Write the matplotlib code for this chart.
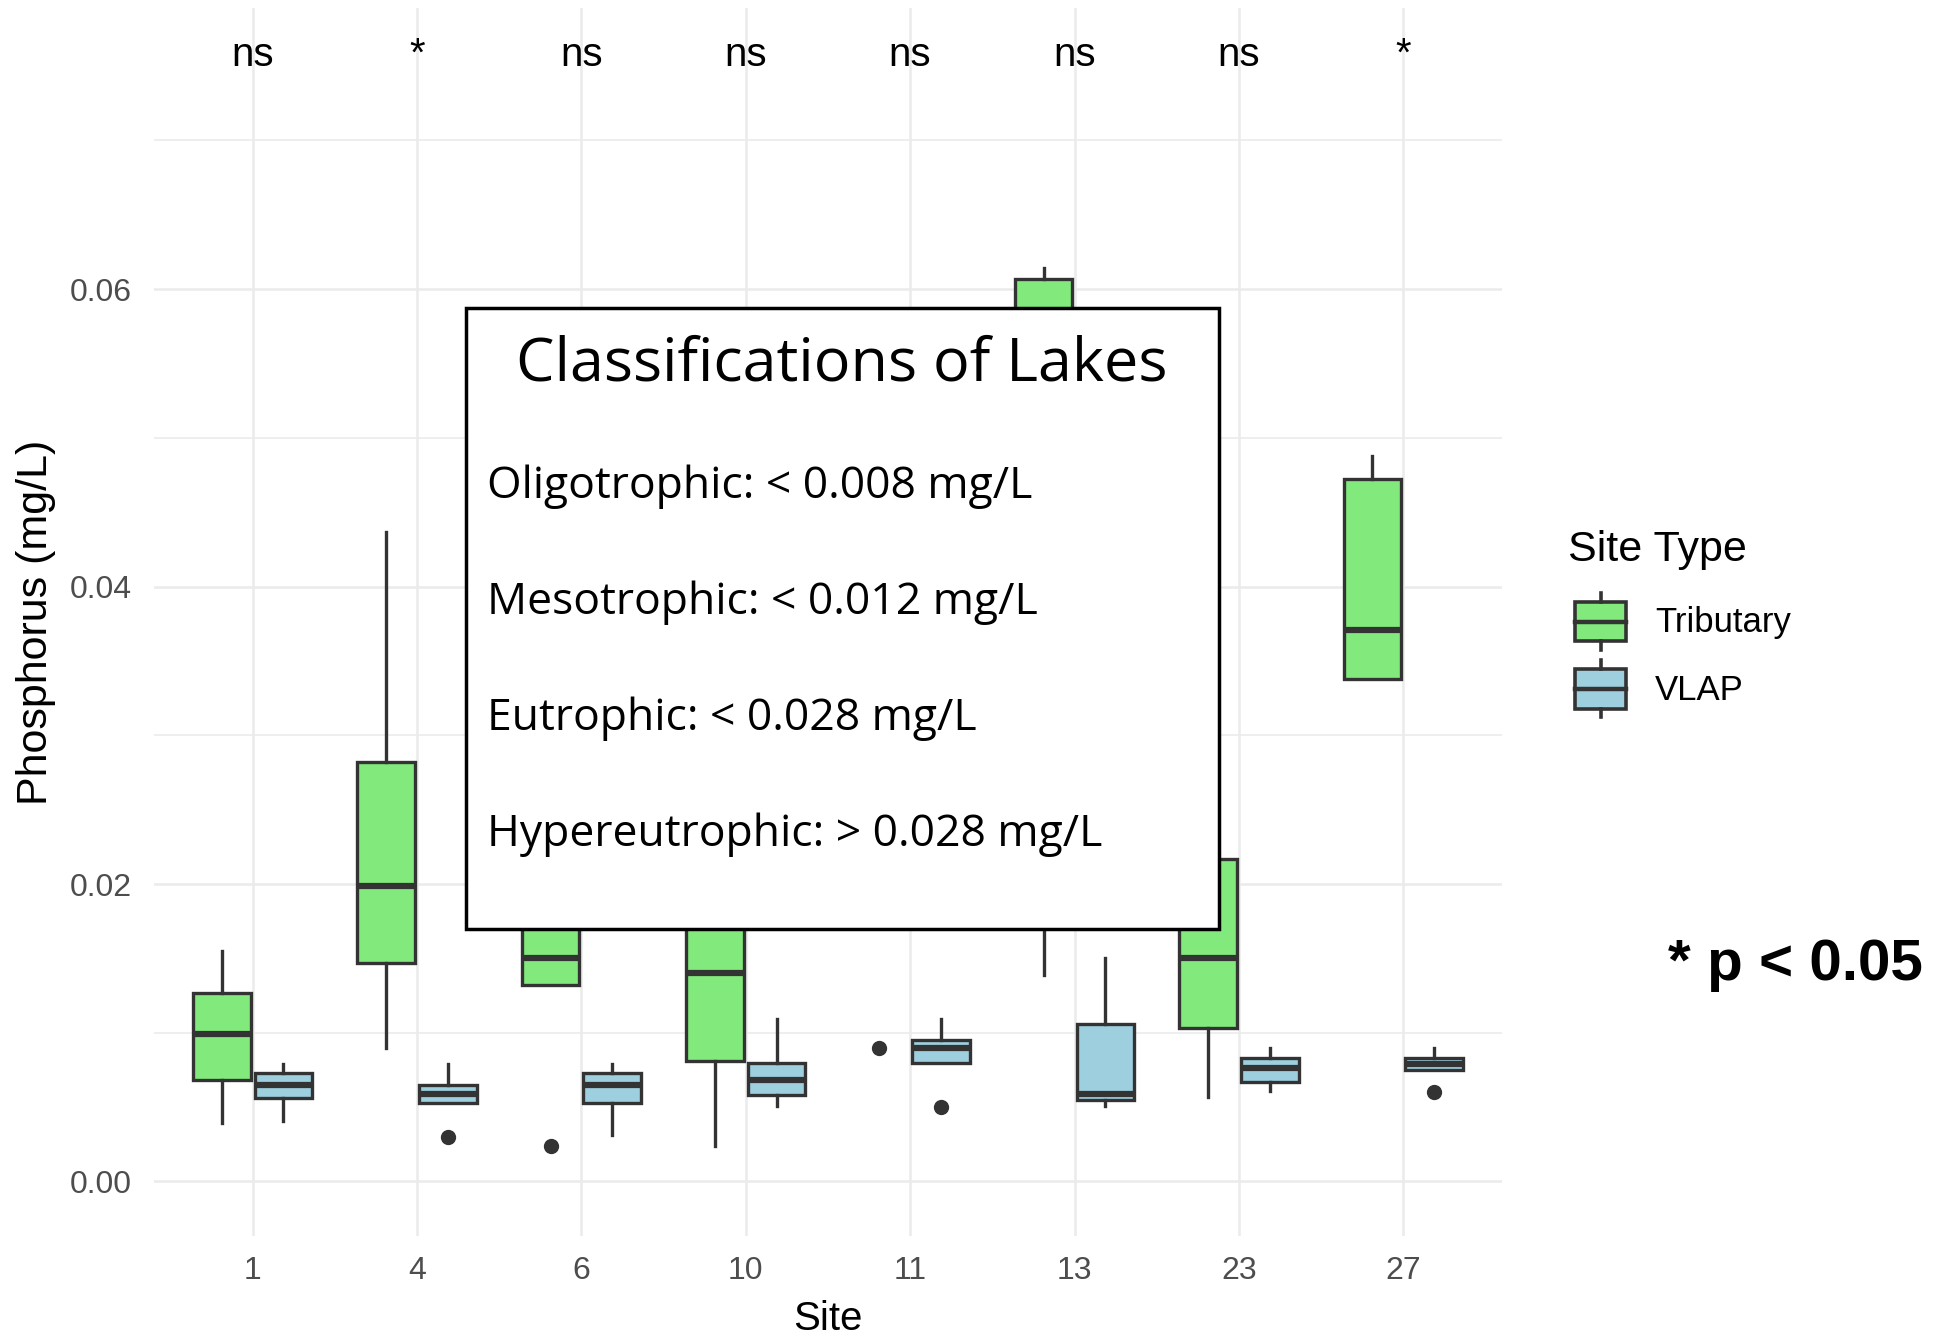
import numpy as np
import matplotlib
matplotlib.use('Agg')
import matplotlib.pyplot as plt
from matplotlib.patches import Patch, Rectangle
from matplotlib.lines import Line2D
from matplotlib.legend_handler import HandlerBase

plt.rcParams['font.family'] = ['Liberation Sans', 'DejaVu Sans']

sites = ['1', '4', '6', '10', '11', '13', '23', '27']
signif = ['ns', '*', 'ns', 'ns', 'ns', 'ns', 'ns', '*']

# Tributary summary stats per site (site 11 has a single sample only)
trib_q1 = [0.0068, 0.0147, 0.0132, 0.0081, None, 0.0235, 0.0103, 0.0338]
trib_med = [0.0099, 0.0199, 0.0150, 0.0140, None, 0.0400, 0.0150, 0.0371]
trib_q3 = [0.0127, 0.0282, 0.0215, 0.0225, None, 0.0607, 0.0217, 0.0472]
trib_lo = [0.0039, 0.0090, 0.0132, 0.0024, None, 0.0139, 0.0057, 0.0338]
trib_hi = [0.0155, 0.0437, 0.0290, 0.0330, None, 0.0614, 0.0280, 0.0488]
trib_out = [[], [], [0.0024], [], [0.0090], [], [], []]

# VLAP summary stats per site
vlap_q1 = [0.0056, 0.0053, 0.0053, 0.0058, 0.0080, 0.0055, 0.0067, 0.0075]
vlap_med = [0.0065, 0.0059, 0.0065, 0.0068, 0.0090, 0.0059, 0.0076, 0.0079]
vlap_q3 = [0.0073, 0.0065, 0.0073, 0.0080, 0.0095, 0.0106, 0.0083, 0.0083]
vlap_lo = [0.0041, 0.0053, 0.0031, 0.0051, 0.0080, 0.0051, 0.0061, 0.0075]
vlap_hi = [0.0079, 0.0079, 0.0079, 0.0109, 0.0109, 0.0150, 0.0090, 0.0090]
vlap_out = [[], [0.0030], [], [], [0.0050], [], [], [0.0060]]

classes = ['Oligotrophic: < 0.008 mg/L',
           'Mesotrophic: < 0.012 mg/L',
           'Eutrophic: < 0.028 mg/L',
           'Hypereutrophic: > 0.028 mg/L']

green = '#82EA7C'
blue = '#9ECFDF'
edge = '#333333'


def make_stats(q1, med, q3, lo, hi, out):
    stats = []
    for a, m, b, l, h, f in zip(q1, med, q3, lo, hi, out):
        if m is None:
            stats.append(None)
        else:
            stats.append(dict(q1=a, med=m, q3=b, whislo=l, whishi=h, fliers=f))
    return stats


class BoxKeyHandler(HandlerBase):
    def create_artists(self, legend, orig_handle, xdescent, ydescent,
                       width, height, fontsize, trans):
        x0, y0 = -xdescent, -ydescent
        stub = height * 0.15
        rect = Rectangle((x0, y0 + stub), width, height - 2 * stub,
                         facecolor=orig_handle.get_facecolor(), edgecolor=edge,
                         lw=2.6, transform=trans)
        mid = y0 + height / 2
        xc = x0 + width / 2
        med = Line2D([x0, x0 + width], [mid, mid], color=edge, lw=3.2, transform=trans)
        top = Line2D([xc, xc], [y0 + height - stub, y0 + height], color=edge, lw=2.6, transform=trans)
        bot = Line2D([xc, xc], [y0, y0 + stub], color=edge, lw=2.6, transform=trans)
        return [rect, med, top, bot]


fig = plt.figure(figsize=(19.34, 13.36), dpi=100)
ax = fig.add_axes([0.0796, 0.0749, 0.6970, 0.9191])

x = np.arange(1, len(sites) + 1)
offset = 0.1875
bw = 0.35

trib_stats = make_stats(trib_q1, trib_med, trib_q3, trib_lo, trib_hi, trib_out)
vlap_stats = make_stats(vlap_q1, vlap_med, vlap_q3, vlap_lo, vlap_hi, vlap_out)

for stats, fill, shift in [(trib_stats, green, -offset), (vlap_stats, blue, offset)]:
    pos = [xi + shift for xi, s in zip(x, stats) if s is not None]
    st = [s for s in stats if s is not None]
    ax.bxp(st, positions=pos, widths=bw, patch_artist=True, showcaps=False,
           boxprops=dict(facecolor=fill, edgecolor=edge, linewidth=2.4),
           medianprops=dict(color=edge, linewidth=4.5),
           whiskerprops=dict(color=edge, linewidth=2.4),
           flierprops=dict(marker='o', markerfacecolor=edge, markeredgecolor=edge, markersize=10),
           manage_ticks=False, zorder=3)

# lone tributary sample at site 11
for xi, s, f in zip(x, trib_stats, trib_out):
    if s is None:
        ax.plot([xi - offset] * len(f), f, 'o', color=edge, markersize=10, zorder=3)

for xi, lab in zip(x, signif):
    ax.text(xi, 0.075, lab, ha='center', va='baseline', fontsize=29, color='black')

ax.set_xlim(0.4, 8.6)
ax.set_ylim(-0.00366, 0.0789)
ax.set_xticks(x)
ax.set_xticklabels(sites)
ax.set_yticks([0, 0.02, 0.04, 0.06])
ax.set_yticklabels(['0.00', '0.02', '0.04', '0.06'])
ax.set_yticks([0.01, 0.03, 0.05, 0.07], minor=True)
ax.tick_params(which='both', length=0, labelsize=23, labelcolor='#4D4D4D')
ax.tick_params(axis='x', pad=14.5)
ax.tick_params(axis='y', pad=16)
ax.grid(which='major', color='#EBEBEB', linewidth=1.8)
ax.grid(which='minor', axis='y', color='#EBEBEB', linewidth=1.2)
ax.set_axisbelow(True)
for sp in ax.spines.values():
    sp.set_visible(False)

ax.set_xlabel('Site', fontsize=29)
ax.xaxis.set_label_coords(0.5, -0.052)
ax.set_ylabel('Phosphorus (mg/L)', fontsize=31)
ax.yaxis.set_label_coords(-0.0725, 0.5)

# legend: title as its own text so the gap to the keys can be set freely
fig.text(1568 / 1934, 1 - 550 / 1336, 'Site Type', ha='left', va='center', fontsize=31)
handles = [Patch(facecolor=green), Patch(facecolor=blue)]
leg = fig.legend(handles, ['Tributary', 'VLAP'],
                 handler_map={Patch: BoxKeyHandler()},
                 loc='upper left', bbox_to_anchor=(1575 / 1934, 1 - 593 / 1336),
                 frameon=False, fontsize=25,
                 handlelength=1.47, handleheight=2.15, labelspacing=0.3,
                 handletextpad=0.84, borderpad=0, borderaxespad=0)

# classification panel drawn over the plot
fig.add_artist(Rectangle((466 / 1934, 1 - 929 / 1336), (1219 - 466) / 1934, (929 - 308) / 1336,
                         transform=fig.transFigure, facecolor='white', edgecolor='black',
                         linewidth=2.5, zorder=5))
fig.text(842 / 1934, 1 - 380 / 1336, 'Classifications of Lakes', ha='center', va='baseline',
         fontsize=44, family='Open Sans', zorder=6)
for i, line in enumerate(classes):
    fig.text(487 / 1934, 1 - (498 + 116 * i) / 1336, line, ha='left', va='baseline',
             fontsize=32, family='Open Sans', zorder=6)

fig.text(1668 / 1934, 1 - 980 / 1336, '* p < 0.05', ha='left', va='baseline',
         fontsize=42, fontweight='bold')

fig.savefig('out.png', dpi=100)
